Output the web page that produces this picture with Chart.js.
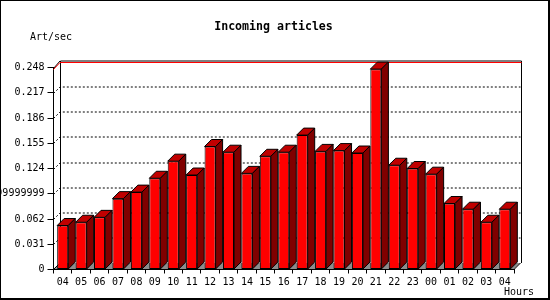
<!DOCTYPE html>
<html>
<head>
<meta charset="utf-8">
<script src="https://cdn.jsdelivr.net/npm/chart.js@4/dist/chart.umd.min.js"></script>
<style>
  html, body { margin: 0; padding: 0; background: #fff; }
  canvas { display: block; }
</style>
</head>
<body>
<canvas id="articlesChart" width="550" height="300"></canvas>
<script>
const hours = ['04', '05', '06', '07', '08', '09', '10', '11', '12', '13', '14', '15', '16',
  '17', '18', '19', '20', '21', '22', '23', '00', '01', '02', '03', '04'];
const articles = [0.054, 0.058, 0.064, 0.087, 0.095, 0.112, 0.133, 0.116, 0.151, 0.144, 0.118, 0.139, 0.144,
  0.165, 0.145, 0.146, 0.143, 0.246, 0.128, 0.124, 0.117, 0.081, 0.074, 0.058, 0.074];
const yTickValues = [0, 0.031, 0.062, 0.093, 0.124, 0.155, 0.186, 0.217, 0.248];
const yTickLabels = ['0', '0.031', '0.062', '0.09299999999', '0.124', '0.155', '0.186', '0.217', '0.248'];
const maxLine = 0.248;

const PLANE_D = 6.5;
const BAR_D = 7;
const MONO = '"DejaVu Sans Mono", "Liberation Mono", monospace';

// back plane, floor, dotted grid, red top line
const backdrop = {
  id: 'backdrop',
  beforeDraw(chart) {
    const c = chart.ctx;
    c.save();
    c.fillStyle = '#fff';
    c.fillRect(0, 0, chart.width, chart.height);
    c.fillStyle = '#000';
    c.fillRect(0, 0, 550, 1);
    c.fillRect(0, 0, 1, 300);
    c.fillRect(548, 0, 2, 300);
    c.fillRect(0, 298, 550, 2);

    c.font = 'bold 11.6px ' + MONO;
    c.textAlign = 'center';
    c.textBaseline = 'middle';
    c.fillText('Incoming articles', 273.5, 27);
    c.font = '10px ' + MONO;
    c.textAlign = 'left';
    c.fillText('Art/sec', 30, 37);
    c.fillText('Hours', 504, 292);
    c.restore();
  },
  beforeDatasetsDraw(chart) {
    const c = chart.ctx;
    const a = chart.chartArea;
    const y = chart.scales.y;
    const D = PLANE_D;
    c.save();
    // floor
    c.fillStyle = '#8c8c8c';
    c.beginPath();
    c.moveTo(a.left, a.bottom - 0.5);
    c.lineTo(a.right, a.bottom - 0.5);
    c.lineTo(a.right + D, a.bottom - D);
    c.lineTo(a.left + D, a.bottom - D);
    c.closePath();
    c.fill();

    // dotted grid lines on the back wall
    c.strokeStyle = '#000';
    c.lineWidth = 1;
    c.setLineDash([2, 2]);
    yTickValues.forEach(v => {
      if (v === 0 || v === maxLine) return;
      const py = Math.round(y.getPixelForValue(v)) + 0.5;
      c.beginPath();
      c.moveTo(a.left, py);
      c.lineTo(a.left + D, py - D);
      c.lineTo(a.right + D, py - D);
      c.stroke();
    });
    c.setLineDash([]);

    // back wall outline
    const top = Math.round(y.getPixelForValue(maxLine)) + 0.5;
    const bx = Math.round(a.left + D) + 0.5;
    const rx = Math.round(a.right + D) + 0.5;
    c.beginPath();
    c.moveTo(bx, a.bottom - D);
    c.lineTo(bx, top - D - 1);
    c.lineTo(rx, top - D - 1);
    c.lineTo(rx, a.bottom - D);
    c.moveTo(a.left, top);
    c.lineTo(a.left + D, top - D - 1);
    c.moveTo(a.left, a.bottom);
    c.lineTo(a.left + D, a.bottom - D);
    c.moveTo(a.right, a.bottom);
    c.lineTo(a.right + D, a.bottom - D);
    c.stroke();

    // red max line
    c.strokeStyle = '#ff0000';
    c.beginPath();
    c.moveTo(a.left, top + 1);
    c.lineTo(a.left + D, top - D + 0.5);
    c.lineTo(rx, top - D + 0.5);
    c.stroke();
    c.restore();
  },
  afterDatasetsDraw(chart) {
    const c = chart.ctx;
    const D = BAR_D;
    c.save();
    c.strokeStyle = '#000';
    c.lineWidth = 1;
    chart.getDatasetMeta(0).data.forEach(bar => {
      const p = bar.getProps(['x', 'y', 'width', 'base'], true);
      const L = p.x - p.width / 2;
      const R = p.x + p.width / 2;
      // top face
      c.fillStyle = '#c00000';
      c.beginPath();
      c.moveTo(L, p.y);
      c.lineTo(L + D, p.y - D);
      c.lineTo(R + D, p.y - D);
      c.lineTo(R, p.y);
      c.closePath();
      c.fill();
      c.stroke();
      // side face
      c.fillStyle = '#800000';
      c.beginPath();
      c.moveTo(R, p.y);
      c.lineTo(R + D, p.y - D);
      c.lineTo(R + D, p.base - D);
      c.lineTo(R, p.base);
      c.closePath();
      c.fill();
      c.stroke();
    });
    c.restore();
  }
};

const ctx = document.getElementById('articlesChart').getContext('2d');
const articlesChart = new Chart(ctx, {
  type: 'bar',
  data: {
    labels: hours,
    datasets: [{
      label: 'Art/sec',
      data: articles,
      backgroundColor: '#ff0000',
      borderColor: '#000',
      borderWidth: 1,
      borderSkipped: false,
      categoryPercentage: 1,
      barPercentage: 0.6
    }]
  },
  options: {
    responsive: false,
    animation: false,
    layout: { padding: { top: 67.5, right: 36, left: 0, bottom: 0 } },
    scales: {
      x: {
        offset: true,
        grid: { display: true, drawOnChartArea: false, offset: true, tickLength: 4, color: '#000' },
        border: { display: true, color: '#000' },
        ticks: { color: '#000', font: { family: MONO, size: 10 }, padding: 3, maxRotation: 0, autoSkip: false },
        afterFit: s => { s.height = 30.5; }
      },
      y: {
        min: 0,
        max: maxLine,
        grid: { display: true, drawOnChartArea: false, tickLength: 6, color: '#000' },
        border: { display: true, color: '#000' },
        ticks: {
          color: '#000',
          font: { family: MONO, size: 10 },
          padding: 3,
          callback: (v, i) => yTickLabels[i]
        },
        afterBuildTicks: s => { s.ticks = yTickValues.map(v => ({ value: v })); },
        afterFit: s => { s.width = 53.5; }
      }
    },
    plugins: {
      legend: { display: false },
      tooltip: { enabled: false },
      title: { display: false }
    }
  },
  plugins: [backdrop]
});
</script>
</body>
</html>
